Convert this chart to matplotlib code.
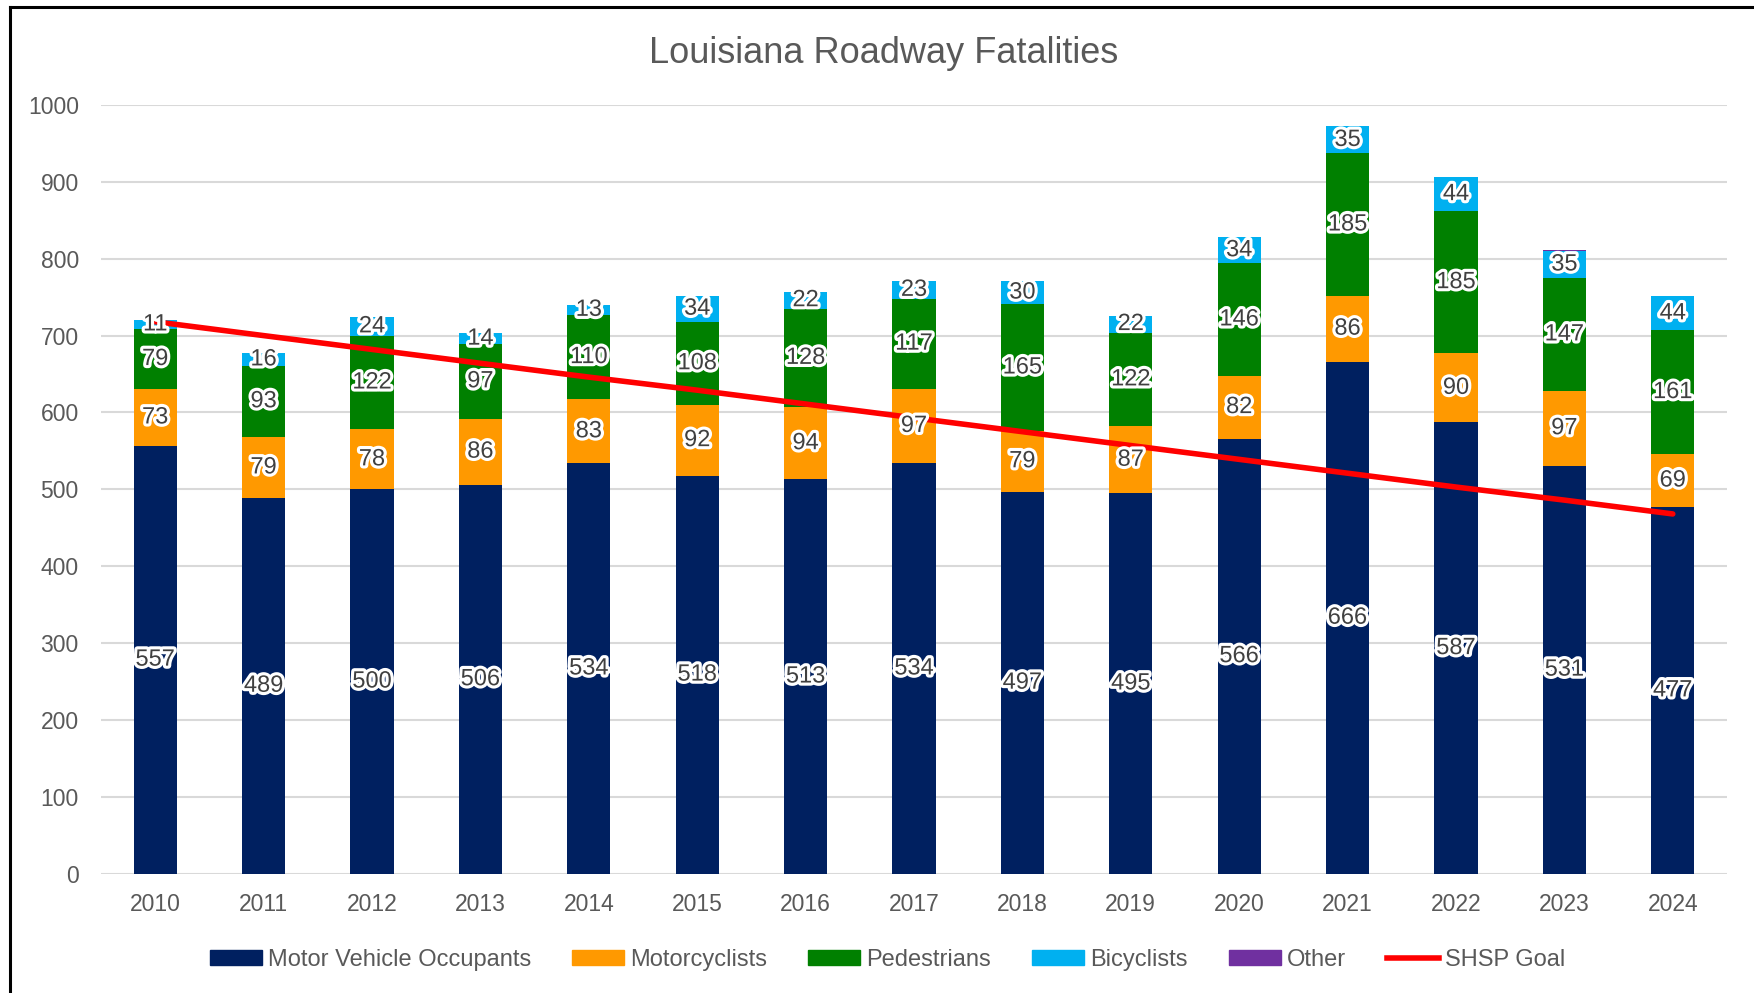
import matplotlib.pyplot as plt
import matplotlib.patheffects as pe
from matplotlib.lines import Line2D
from matplotlib.patches import Patch
import numpy as np

plt.rcParams['font.family'] = ['Liberation Sans', 'DejaVu Sans']

years = ['2010', '2011', '2012', '2013', '2014', '2015', '2016', '2017',
         '2018', '2019', '2020', '2021', '2022', '2023', '2024']
motor_vehicle = [557, 489, 500, 506, 534, 518, 513, 534, 497, 495, 566, 666, 587, 531, 477]
motorcyclists = [73, 79, 78, 86, 83, 92, 94, 97, 79, 87, 82, 86, 90, 97, 69]
pedestrians = [79, 93, 122, 97, 110, 108, 128, 117, 165, 122, 146, 185, 185, 147, 161]
bicyclists = [11, 16, 24, 14, 13, 34, 22, 23, 30, 22, 34, 35, 44, 35, 44]
other = [0, 0, 0, 0, 0, 0, 0, 0, 0, 0, 0, 0, 0, 1, 1]
shsp_goal = [718, 700, 682, 664, 646, 629, 611, 593, 575, 557, 539, 521, 503, 486, 468]

series = [
    ('Motor Vehicle Occupants', motor_vehicle, '#002060'),
    ('Motorcyclists', motorcyclists, '#FF9900'),
    ('Pedestrians', pedestrians, '#008000'),
    ('Bicyclists', bicyclists, '#00B0F0'),
    ('Other', other, '#7030A0'),
]

fig = plt.figure(figsize=(17.54, 9.93), dpi=100)
ax = fig.add_axes([0.0576, 0.1201, 0.927, 0.7742])

x = np.arange(len(years))
bottom = np.zeros(len(years))
halo = [pe.withStroke(linewidth=4.5, foreground='white')]
for name, vals, col in series:
    vals = np.array(vals, dtype=float)
    ax.bar(x, vals, 0.4, bottom=bottom, color=col, zorder=2)
    if name != 'Other':
        for xi, b, v in zip(x, bottom, vals):
            ax.text(xi, b + v / 2, f'{int(v)}', ha='center', va='center',
                    fontsize=17, color='#404040', path_effects=halo, zorder=4)
    bottom += vals

ax.plot(x, shsp_goal, color='#FF0000', lw=4, solid_capstyle='round', zorder=3)

ax.set_xlim(-0.5, len(years) - 0.5)
ax.set_ylim(0, 1000)
ax.set_yticks(range(0, 1001, 100))
ax.set_xticks(x)
ax.set_xticklabels(years)
ax.grid(axis='y', color='#D9D9D9', lw=1.5, zorder=0)
ax.set_axisbelow(True)
for s in ax.spines.values():
    s.set_visible(False)
ax.tick_params(axis='both', length=0, labelsize=16.5, colors='#595959')
ax.tick_params(axis='x', pad=14)
ax.tick_params(axis='y', pad=16)

fig.text(0.504, 0.946, 'Louisiana Roadway Fatalities', ha='center', va='center',
         fontsize=26, color='#595959')

handles = [Patch(color=col) for _, _, col in series]
handles.append(Line2D([0], [0], color='#FF0000', lw=4))
labels = [name for name, _, _ in series] + ['SHSP Goal']
fig.legend(handles, labels, loc='center', bbox_to_anchor=(0.506, 0.033), ncol=6,
           frameon=False, fontsize=17, handlelength=2.2, handleheight=0.6,
           handletextpad=0.25, columnspacing=1.75, labelcolor='#595959')

fig.add_artist(Line2D([0.0057, 1.0], [0.993, 0.993], color='black', lw=2.2,
                      transform=fig.transFigure))
fig.add_artist(Line2D([0.0057, 0.0057], [0.0, 0.993], color='black', lw=2.2,
                      transform=fig.transFigure))

fig.savefig('out.png', dpi=100)
